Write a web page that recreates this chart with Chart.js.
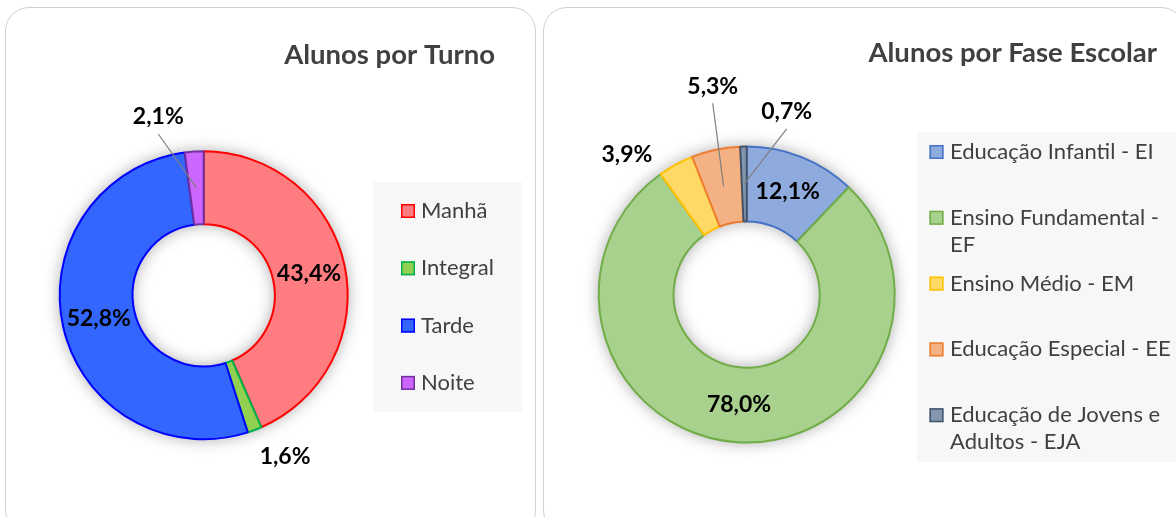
<!DOCTYPE html>
<html>
<head>
<meta charset="utf-8">
<script src="https://cdn.jsdelivr.net/npm/chart.js@4.4.0/dist/chart.umd.min.js"></script>
<style>
  html, body {
    margin: 0;
    padding: 0;
    background: #fff;
    width: 1176px;
    height: 517px;
    overflow: hidden;
  }
  .panel {
    position: absolute;
    border: 1.5px solid #d0d0d0;
    border-radius: 24px;
    background: #fff;
  }
  canvas {
    position: absolute;
  }
</style>
</head>
<body>
<div class="panel" style="left:5px;top:7px;width:529px;height:525px"></div>
<div class="panel" style="left:543px;top:7px;width:640px;height:525px"></div>
<canvas id="turno" width="540" height="517" style="left:0;top:0;width:540px;height:517px"></canvas>
<canvas id="fase" width="636" height="517" style="left:540px;top:0;width:636px;height:517px"></canvas>

<script>
// Alunos por Turno
const turnoLabels = ['Manhã', 'Integral', 'Tarde', 'Noite'];
const turnoValues = [43.4, 1.6, 52.8, 2.1];

// Alunos por Fase Escolar (legend text wraps like the original)
const faseLabels = [
  ['Educação Infantil - EI'],
  ['Ensino Fundamental -', 'EF'],
  ['Ensino Médio - EM'],
  ['Educação Especial - EE'],
  ['Educação de Jovens e', 'Adultos - EJA']
];
const faseValues = [12.1, 78.0, 3.9, 5.3, 0.7];

const FONT = 'Lato, "Open Sans", sans-serif';

const fmt = v => v.toFixed(1).replace('.', ',') + '%';

// shadow ring, title, legend box and data labels
const decor = {
  id: 'decor',
  beforeDatasetsDraw(chart) {
    const arc = chart.getDatasetMeta(0).data[0];
    const ctx = chart.ctx;
    ctx.save();
    ctx.beginPath();
    ctx.arc(arc.x, arc.y, arc.outerRadius, 0, Math.PI * 2);
    ctx.arc(arc.x, arc.y, arc.innerRadius, 0, Math.PI * 2, true);
    ctx.shadowColor = 'rgba(0,0,0,0.35)';
    ctx.shadowBlur = 16;
    ctx.fillStyle = '#fff';
    ctx.fill();
    ctx.restore();
  },
  afterDraw(chart, args, opts) {
    const ctx = chart.ctx;
    const ds = chart.data.datasets[0];
    const meta = chart.getDatasetMeta(0);

    // title
    ctx.save();
    ctx.font = `bold ${opts.title.size}px ${FONT}`;
    ctx.fillStyle = '#404040';
    ctx.textAlign = 'right';
    ctx.textBaseline = 'alphabetic';
    ctx.fillText(opts.title.text, opts.title.x, opts.title.y);

    // legend
    const lg = opts.legend;
    ctx.fillStyle = '#f7f7f7';
    ctx.fillRect(lg.x, lg.y, lg.w, lg.h);
    ctx.font = `${lg.size}px ${FONT}`;
    ctx.textAlign = 'left';
    ctx.textBaseline = 'middle';
    chart.data.labels.forEach((label, i) => {
      const y = lg.firstY + i * lg.step;
      ctx.fillStyle = ds.backgroundColor[i];
      ctx.strokeStyle = ds.borderColor[i];
      ctx.lineWidth = 1.5;
      ctx.fillRect(lg.boxX, y - 7, 14, 14);
      ctx.strokeRect(lg.boxX + 0.75, y - 6.25, 12.5, 12.5);
      ctx.fillStyle = '#404040';
      [].concat(label).forEach((line, j) => {
        ctx.fillText(line, lg.textX, y + j * lg.lineH);
      });
    });

    // data labels
    ctx.font = `bold ${opts.labelSize}px ${FONT}`;
    ctx.textAlign = 'center';
    meta.data.forEach((arc, i) => {
      const mid = (arc.startAngle + arc.endAngle) / 2;
      const rm = (arc.innerRadius + arc.outerRadius) / 2;
      const mx = arc.x + rm * Math.cos(mid);
      const my = arc.y + rm * Math.sin(mid);
      const place = opts.placement[i] || {};
      let lx = mx, ly = my;
      if (place.dist) {
        const a = mid + place.offset * Math.PI / 180;
        lx = arc.x + place.dist * Math.cos(a);
        ly = arc.y + place.dist * Math.sin(a);
        if (place.leader) {
          ctx.strokeStyle = '#7f7f7f';
          ctx.lineWidth = 1.2;
          ctx.beginPath();
          ctx.moveTo(lx, ly + 17);
          ctx.lineTo(mx, my);
          ctx.stroke();
        }
      }
      ctx.fillStyle = '#000';
      ctx.fillText(fmt(ds.data[i]), lx, ly);
    });
    ctx.restore();
  }
};

function makeDonut(id, labels, values, fills, borders, geo, decorOpts) {
  const canvas = document.getElementById(id);
  const W = canvas.width, H = canvas.height;
  return new Chart(canvas, {
    type: 'doughnut',
    data: {
      labels: labels,
      datasets: [{
        data: values,
        backgroundColor: fills,
        borderColor: borders,
        borderWidth: 2,
        hoverOffset: 0
      }]
    },
    options: {
      responsive: false,
      animation: false,
      radius: geo.r,
      cutout: '49.4%',
      layout: {
        padding: {
          left: geo.cx - geo.r,
          right: W - geo.cx - geo.r,
          top: geo.cy - geo.r,
          bottom: H - geo.cy - geo.r
        }
      },
      plugins: {
        legend: { display: false },
        tooltip: { enabled: false },
        decor: decorOpts
      }
    },
    plugins: [decor]
  });
}

makeDonut('turno', turnoLabels, turnoValues,
  ['#ff7c80', '#92d050', '#3366ff', '#cc66ff'],
  ['#ff0000', '#00b050', '#0000ff', '#7030a0'],
  { cx: 203.7, cy: 295.3, r: 144 },
  {
    title: { text: 'Alunos por Turno', size: 27.5, x: 495, y: 64 },
    legend: { x: 373, y: 182, w: 149, h: 230, boxX: 401, textX: 421, firstY: 211, step: 57.3, lineH: 27, size: 22 },
    labelSize: 23,
    placement: [
      {},
      { dist: 181, offset: -6 },
      {},
      { dist: 184, offset: -10.5, leader: true }
    ]
  });

makeDonut('fase', faseLabels, faseValues,
  ['#8faadc', '#a9d18e', '#ffd966', '#f4b183', '#8497b0'],
  ['#4472c4', '#70ad47', '#ffc000', '#ed7d31', '#44546a'],
  { cx: 206.7, cy: 294.5, r: 148 },
  {
    title: { text: 'Alunos por Fase Escolar', size: 27.5, x: 617, y: 62 },
    legend: { x: 377, y: 132, w: 259, h: 330, boxX: 389.5, textX: 410, firstY: 152, step: 65.8, lineH: 27, size: 22 },
    labelSize: 23,
    placement: [
      {},
      {},
      { dist: 184, offset: -12 },
      { dist: 211, offset: 2.8, leader: true },
      { dist: 187, offset: 13.6, leader: true }
    ]
  });
</script>
</body>
</html>
